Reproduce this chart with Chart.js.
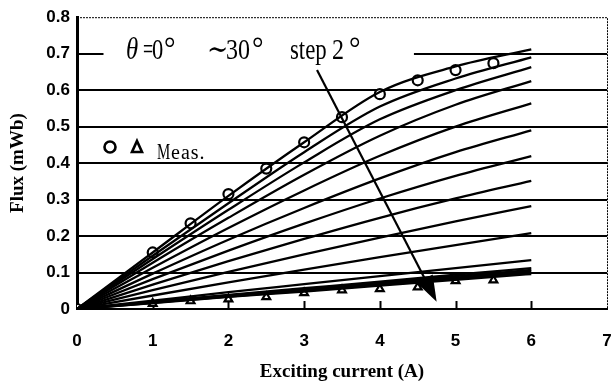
<!DOCTYPE html>
<html>
<head>
<meta charset="utf-8">
<script src="https://cdn.jsdelivr.net/npm/chart.js@4/dist/chart.umd.min.js"></script>
<style>
  html, body { margin: 0; padding: 0; background: #fff; }
</style>
</head>
<body>
<canvas id="myChart" width="615" height="386"></canvas>
<script>
// exciting current (A) where the computed curves are sampled
const currents = [0, 1, 2, 3, 4, 5, 6];
const thetaDeg = [0, 2, 4, 6, 8, 10, 12, 14, 16, 18, 20, 22, 24, 26, 28, 30];
// computed flux (mWb), one row per theta
const fluxByTheta = [
  [0, 0.155, 0.31, 0.457, 0.595, 0.665, 0.712],
  [0, 0.146, 0.29, 0.43, 0.555, 0.632, 0.69],
  [0, 0.137, 0.272, 0.402, 0.52, 0.6, 0.663],
  [0, 0.127, 0.25, 0.368, 0.475, 0.56, 0.625],
  [0, 0.113, 0.222, 0.325, 0.42, 0.5, 0.564],
  [0, 0.097, 0.19, 0.277, 0.358, 0.43, 0.49],
  [0, 0.082, 0.16, 0.234, 0.303, 0.365, 0.419],
  [0, 0.067, 0.131, 0.192, 0.25, 0.303, 0.351],
  [0, 0.052, 0.102, 0.15, 0.196, 0.24, 0.282],
  [0, 0.037, 0.073, 0.108, 0.142, 0.175, 0.208],
  [0, 0.023, 0.046, 0.068, 0.09, 0.112, 0.134],
  [0, 0.02, 0.039, 0.057, 0.075, 0.094, 0.112],
  [0, 0.019, 0.037, 0.055, 0.072, 0.09, 0.107],
  [0, 0.018, 0.035, 0.052, 0.069, 0.086, 0.103],
  [0, 0.017, 0.034, 0.05, 0.066, 0.083, 0.099],
  [0, 0.016, 0.033, 0.048, 0.064, 0.08, 0.096]
];
// measured points
const measCurrent = [0, 1, 1.5, 2, 2.5, 3, 3.5, 4, 4.5, 5, 5.5];
const measCircle = [0, 0.155, 0.235, 0.315, 0.385, 0.457, 0.526, 0.589, 0.627, 0.655, 0.674];
const measTriCurrent = [1, 1.5, 2, 2.5, 3, 3.5, 4, 4.5, 5, 5.5];
const measTriangle = [0.015, 0.022, 0.027, 0.033, 0.044, 0.052, 0.055, 0.06, 0.077, 0.079];
// arrow (start, tip) in data units
const arrowX = [3.17, 4.75];
const arrowY = [0.655, 0.02];
const yTicks = [0, 0.1, 0.2, 0.3, 0.4, 0.5, 0.6, 0.7, 0.8];

function toPoints(xs, ys) {
  return xs.map((x, i) => ({ x: x, y: ys[i] }));
}

let datasets = fluxByTheta.map((row, i) => ({
  label: "theta " + thetaDeg[i],
  data: toPoints(currents, row),
  borderColor: "#000",
  borderWidth: 2.3,
  pointRadius: 0,
  cubicInterpolationMode: "monotone",
  fill: false
}));
datasets.push({
  label: "Meas. triangle",
  data: toPoints(measTriCurrent, measTriangle),
  showLine: false,
  pointStyle: "triangle",
  pointRadius: 4.5,
  pointBorderWidth: 2.2,
  pointBorderColor: "#000",
  pointBackgroundColor: "#fff"
});
datasets.push({
  label: "Meas. circle",
  data: toPoints(measCurrent, measCircle),
  showLine: false,
  pointStyle: "circle",
  pointRadius: 5,
  pointBorderWidth: 2.2,
  pointBorderColor: "#000",
  pointBackgroundColor: "#fff"
});

function squeezed(ctx, str, px, py, font, sx) {
  ctx.save();
  ctx.font = font;
  ctx.translate(px, py);
  ctx.scale(sx, 1);
  ctx.fillText(str, 0, 0);
  ctx.restore();
}

const decor = {
  id: "decor",
  beforeDatasetsDraw(chart) {
    const { ctx, chartArea, scales: { x, y } } = chart;
    ctx.save();
    // break in the 0.7 line where the label sits
    ctx.fillStyle = "#fff";
    let y7 = y.getPixelForValue(0.7);
    ctx.fillRect(x.getPixelForValue(0.35), y7 - 3, x.getPixelForValue(4.45) - x.getPixelForValue(0.35), 6);
    // small inner ticks on the current axis
    ctx.strokeStyle = "#000";
    ctx.lineWidth = 2;
    for (let v = 1; v <= 6; v++) {
      let px = Math.round(x.getPixelForValue(v)) + 0.5;
      ctx.beginPath();
      ctx.moveTo(px, chartArea.bottom);
      ctx.lineTo(px, chartArea.bottom - 8);
      ctx.stroke();
    }
    ctx.restore();
  },
  afterDatasetsDraw(chart) {
    const { ctx, scales: { x, y } } = chart;
    ctx.save();
    // arrow
    let x0 = x.getPixelForValue(arrowX[0]), y0 = y.getPixelForValue(arrowY[0]);
    let x1 = x.getPixelForValue(arrowX[1]), y1 = y.getPixelForValue(arrowY[1]);
    let ang = Math.atan2(y1 - y0, x1 - x0);
    let headLen = 26, headW = 9;
    let bx = x1 - headLen * Math.cos(ang), by = y1 - headLen * Math.sin(ang);
    ctx.strokeStyle = "#000";
    ctx.fillStyle = "#000";
    ctx.lineWidth = 2.2;
    ctx.beginPath();
    ctx.moveTo(x0, y0);
    ctx.lineTo(bx, by);
    ctx.stroke();
    ctx.beginPath();
    ctx.moveTo(x1, y1);
    ctx.lineTo(bx + headW * Math.sin(ang), by - headW * Math.cos(ang));
    ctx.lineTo(bx - headW * Math.sin(ang), by + headW * Math.cos(ang));
    ctx.closePath();
    ctx.fill();

    // header text
    ctx.textBaseline = "alphabetic";
    let serif = '"Liberation Serif", "DejaVu Serif", serif';
    let base = 59;
    squeezed(ctx, "\u03B8", 126, base, "italic 31px " + serif, 0.8);
    squeezed(ctx, "=", 143, base, "30px " + serif, 0.6);
    squeezed(ctx, "0", 152, base, "30px " + serif, 0.75);
    squeezed(ctx, "\u00B0", 164, base, "32px " + serif, 0.9);
    squeezed(ctx, "\u223C", 207, base, "30px " + serif, 0.85);
    squeezed(ctx, "30", 226, base, "30px " + serif, 0.8);
    squeezed(ctx, "\u00B0", 252, base, "32px " + serif, 0.9);
    squeezed(ctx, "step", 290, base, "30px " + serif, 0.76);
    squeezed(ctx, "2", 332, base, "30px " + serif, 0.8);
    squeezed(ctx, "\u00B0", 349, base, "32px " + serif, 0.9);

    // legend for measured points
    ctx.lineWidth = 2.6;
    ctx.beginPath();
    ctx.arc(110, 147, 5.5, 0, Math.PI * 2);
    ctx.stroke();
    ctx.beginPath();
    ctx.moveTo(137, 141);
    ctx.lineTo(142, 152);
    ctx.lineTo(132, 152);
    ctx.closePath();
    ctx.stroke();
    squeezed(ctx, "M", 157, 159, "24px " + serif, 0.62);
    ctx.save();
    ctx.letterSpacing = "1px";
    squeezed(ctx, "eas.", 171, 159, "20px " + serif, 1.0);
    ctx.restore();
    ctx.restore();
  },
  afterDraw(chart) {
    const { ctx, chartArea } = chart;
    ctx.save();
    ctx.strokeStyle = "#000";
    ctx.lineWidth = 1;
    ctx.setLineDash([2, 1]);
    ctx.beginPath();
    ctx.moveTo(chartArea.left, chartArea.top + 0.5);
    ctx.lineTo(chartArea.right + 0.5, chartArea.top + 0.5);
    ctx.lineTo(chartArea.right + 0.5, chartArea.bottom);
    ctx.stroke();
    ctx.restore();
  }
};

let ctx = document.getElementById("myChart").getContext("2d");
let currentChart = new Chart(ctx, {
  type: "line",
  data: { datasets: datasets },
  plugins: [decor],
  options: {
    responsive: false,
    animation: false,
    devicePixelRatio: 1,
    layout: { padding: { top: 17, right: 8, left: 0, bottom: 0 } },
    plugins: { legend: { display: false }, tooltip: { enabled: false } },
    scales: {
      x: {
        type: "linear",
        min: 0,
        max: 7,
        afterFit: (scale) => { scale.height = 77; },
        ticks: {
          stepSize: 1,
          padding: 0,
          color: "#000",
          font: { family: '"Liberation Sans", Arial, sans-serif', weight: "bold", size: 17 }
        },
        // hidden grid; tickLength only pushes the labels down
        grid: { display: false, drawTicks: true, tickLength: 22 },
        border: { color: "#000", width: 2 },
        title: {
          display: true,
          text: "Exciting current (A)",
          color: "#000",
          padding: { top: 0, bottom: 3 },
          font: { family: '"Liberation Serif", "Times New Roman", serif', weight: "bold", size: 19 }
        }
      },
      y: {
        type: "linear",
        min: 0,
        max: 0.8,
        afterFit: (scale) => { scale.width = 77; },
        afterBuildTicks: (scale) => { scale.ticks = yTicks.map((v) => ({ value: v })); },
        ticks: {
          padding: 7,
          color: "#000",
          callback: (v) => (v === 0 ? "0" : v.toFixed(1)),
          font: { family: '"Liberation Sans", Arial, sans-serif', weight: "bold", size: 17 }
        },
        grid: {
          drawTicks: false,
          lineWidth: 2,
          color: (c) => (c.tick && (c.tick.value === 0 || c.tick.value > 0.75) ? "rgba(0,0,0,0)" : "#000")
        },
        border: { color: "#000", width: 3 },
        title: {
          display: true,
          text: "Flux (mWb)",
          color: "#000",
          padding: { top: 7, bottom: 0 },
          font: { family: '"Liberation Serif", "Times New Roman", serif', weight: "bold", size: 19 }
        }
      }
    }
  }
});
</script>
</body>
</html>
